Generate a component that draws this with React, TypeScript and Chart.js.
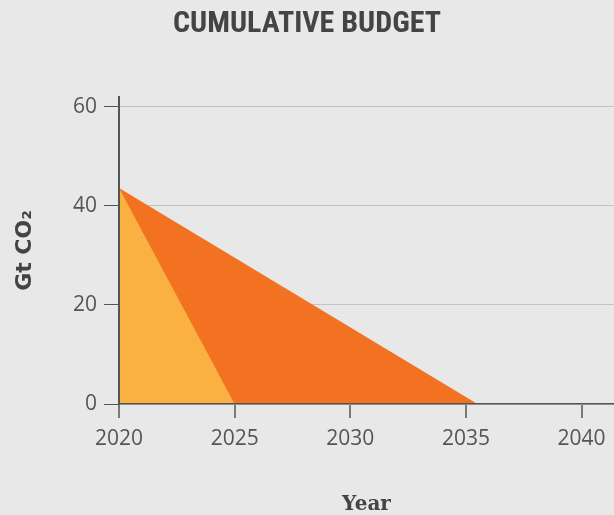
import { useEffect, useRef } from 'react';
import { Chart, registerables } from 'chart.js';

Chart.register(...registerables);

const TITLE = 'CUMULATIVE BUDGET';
const X_TITLE = 'Year';
const Y_TITLE = 'Gt CO₂';
const X_TICKS = [2020, 2025, 2030, 2035, 2040];
const Y_TICKS = [0, 20, 40, 60];
const FAST_YEARS = [2020, 2025];
const FAST_VALUES = [43.6, 0];
const SLOW_YEARS = [2020, 2035.5];
const SLOW_VALUES = [43.6, 0];
const X_MIN = 2020;
const X_MAX = 2041.4;
const Y_MIN = 0;
const Y_MAX = 62;

const W = 614;
const H = 515;
const BG = '#e8e8e8';
const DARK_ORANGE = '#f37222';
const LIGHT_ORANGE = '#fbb042';
const TICK_FONT = '"Open Sans", "DejaVu Sans", sans-serif';

export default function App() {
  const ref = useRef<HTMLCanvasElement | null>(null);

  useEffect(() => {
    if (!ref.current) return;
    const toPts = (xs: number[], ys: number[]) => xs.map((x, i) => ({ x, y: ys[i] }));
    const chart = new Chart(ref.current, {
      type: 'scatter',
      data: {
        datasets: [
          {
            label: 'fast',
            data: toPts(FAST_YEARS, FAST_VALUES),
            showLine: true,
            fill: 'origin',
            backgroundColor: LIGHT_ORANGE,
            borderColor: LIGHT_ORANGE,
            borderWidth: 0,
            pointRadius: 0,
            order: 1,
          },
          {
            label: 'slow',
            data: toPts(SLOW_YEARS, SLOW_VALUES),
            showLine: true,
            fill: 'origin',
            backgroundColor: DARK_ORANGE,
            borderColor: DARK_ORANGE,
            borderWidth: 0,
            pointRadius: 0,
            order: 2,
          },
        ],
      },
      options: {
        responsive: false,
        animation: false,
        events: [],
        layout: { padding: 0 },
        plugins: {
          legend: { display: false },
          tooltip: { enabled: false },
          title: {
            display: true,
            text: TITLE,
            color: '#444444',
            font: {
              family: '"Roboto Condensed", "Liberation Sans Narrow", "DejaVu Sans Condensed", Roboto, sans-serif',
              weight: 'bold',
              size: 30,
              lineHeight: 1.2,
            },
            padding: { top: 6, bottom: 55 },
          },
        },
        scales: {
          x: {
            type: 'linear',
            min: X_MIN,
            max: X_MAX,
            afterBuildTicks: (s: any) => {
              s.ticks = X_TICKS.map((v) => ({ value: v }));
            },
            afterFit: (s: any) => {
              s.height = 111;
            },
            border: { display: true, color: '#555555', width: 1.5, z: 1 },
            grid: {
              drawOnChartArea: false,
              drawTicks: true,
              tickLength: 14,
              color: '#7a7a7a',
              lineWidth: 2,
            },
            ticks: {
              color: '#555555',
              font: { family: TICK_FONT, size: 21 },
              padding: 8,
              maxRotation: 0,
              callback: (v: any) => String(v),
            },
            title: {
              display: true,
              text: X_TITLE,
              color: '#444444',
              font: { family: '"DejaVu Serif", serif', weight: 'bold', size: 20, lineHeight: 1.2 },
              padding: { top: 0, bottom: -2 },
            },
          },
          y: {
            type: 'linear',
            min: Y_MIN,
            max: Y_MAX,
            afterBuildTicks: (s: any) => {
              s.ticks = Y_TICKS.map((v) => ({ value: v }));
            },
            afterFit: (s: any) => {
              s.width = 119;
            },
            border: { display: true, color: '#555555', width: 2, z: 1 },
            grid: {
              drawOnChartArea: true,
              drawTicks: true,
              tickLength: 15,
              color: '#c4c4c4',
              tickColor: '#555555',
              lineWidth: 1,
            },
            ticks: {
              color: '#555555',
              font: { family: TICK_FONT, size: 21 },
              padding: 7,
              callback: (v: any) => String(v),
            },
            title: {
              display: true,
              text: Y_TITLE,
              color: '#444444',
              font: { family: '"DejaVu Sans", sans-serif', weight: 'bold', size: 22, lineHeight: 1.2 },
              padding: { top: 12, bottom: 0 },
            },
          },
        },
      },
    });
    return () => chart.destroy();
  }, []);

  return (
    <div style={{ position: 'fixed', left: 0, top: 0, width: W, height: H, background: BG }}>
      <canvas ref={ref} width={W} height={H} style={{ display: 'block', width: W, height: H }} />
    </div>
  );
}
